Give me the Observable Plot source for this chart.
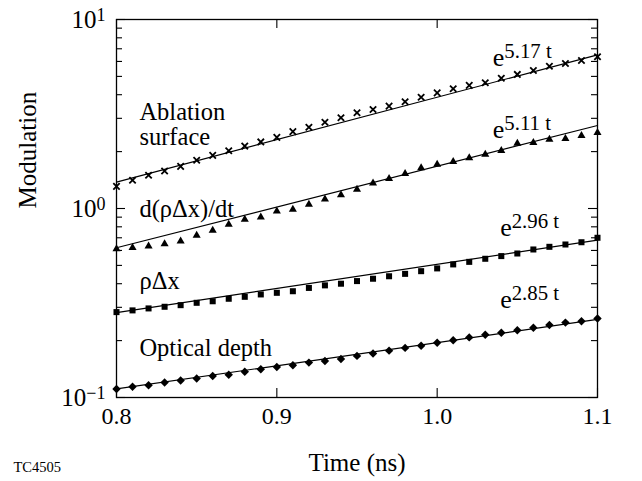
<!DOCTYPE html>
<html><head><meta charset="utf-8">
<script src="https://cdn.jsdelivr.net/npm/d3@7"></script>
<script src="https://cdn.jsdelivr.net/npm/@observablehq/plot@0.6"></script>
<style>body{margin:0;background:#fff}</style>
</head><body><div id="chart"></div>
<script>
// ---- data ----
const time = [0.80,0.81,0.82,0.83,0.84,0.85,0.86,0.87,0.88,0.89,0.90,0.91,0.92,0.93,0.94,0.95,0.96,0.97,0.98,0.99,1.00,1.01,1.02,1.03,1.04,1.05,1.06,1.07,1.08,1.09,1.10];
const ablation = [1.31,1.41,1.50,1.58,1.67,1.80,1.91,2.02,2.14,2.25,2.38,2.55,2.69,2.86,3.02,3.21,3.34,3.48,3.67,3.88,4.09,4.30,4.48,4.63,4.89,5.12,5.37,5.66,5.85,6.07,6.35];
const dRhoDxDt = [0.612,0.620,0.632,0.650,0.671,0.720,0.765,0.823,0.875,0.900,0.968,0.988,1.05,1.12,1.18,1.26,1.36,1.44,1.53,1.64,1.71,1.77,1.85,1.93,2.02,2.21,2.23,2.32,2.34,2.43,2.52];
const rhoDx = [0.283,0.289,0.296,0.302,0.308,0.317,0.323,0.333,0.341,0.351,0.358,0.365,0.380,0.392,0.400,0.413,0.425,0.438,0.451,0.466,0.482,0.506,0.522,0.542,0.560,0.578,0.607,0.627,0.645,0.663,0.700];
const opticalDepth = [0.111,0.114,0.116,0.120,0.123,0.126,0.130,0.132,0.137,0.141,0.145,0.148,0.153,0.156,0.160,0.166,0.171,0.177,0.183,0.188,0.195,0.201,0.208,0.215,0.220,0.227,0.234,0.242,0.249,0.253,0.262];
const seriesNames = ["Ablation surface", "d(ρΔx)/dt", "ρΔx", "Optical depth"];
const seriesLabels = ["Ablation\nsurface", "d(ρΔx)/dt", "ρΔx", "Optical depth"];
// exponential fits: value at start and end of the time range
const fitTimes = [0.80, 1.10];
const fitStart = [1.38, 0.62, 0.281, 0.111];
const fitEnd = [6.5, 2.75, 0.680, 0.259];
const growthLabels = ["e^5.17 t", "e^5.11 t", "e^2.96 t", "e^2.85 t"];
const xTickValues = [0.8, 0.9, 1.0, 1.1];
const xTickLabels = ["0.8", "0.9", "1.0", "1.1"];
const yTickValues = [0.1, 1, 10];
const yTickLabels = ["10_\u22121", "10_0", "10_1"];
const yMinorTicks = [0.2,0.3,0.4,0.5,0.6,0.7,0.8,0.9,2,3,4,5,6,7,8,9];

// ---- tables ----
const valuesBySeries = [ablation, dRhoDxDt, rhoDx, opticalDepth];
const rows = seriesNames.map((s, k) => time.map((t, i) => ({series: s, t, v: valuesBySeries[k][i]})));
const fitRows = seriesNames.flatMap((s, k) => [
  {series: s, t: fitTimes[0], v: fitStart[k]},
  {series: s, t: fitTimes[1], v: fitEnd[k]}
]);

const W = 642, H = 481, mL = 116, mR = 45, mT = 19, mB = 84;
const iW = W - mL - mR, iH = H - mT - mB;
const serif = "Liberation Serif, Times New Roman, serif";
const T = {fontFamily: serif, fill: "black"};

const svg = Plot.plot({
  width: W, height: H,
  marginLeft: mL, marginRight: mR, marginTop: mT, marginBottom: mB,
  style: {fontFamily: serif, fontSize: "24px", background: "white", color: "black"},
  x: {domain: [0.8, 1.1], axis: null},
  y: {type: "log", domain: [0.1, 10], axis: null},
  marks: [
    // fits
    Plot.line(fitRows, {x: "t", y: "v", z: "series", stroke: "black", strokeWidth: 1.2}),
    // data points
    Plot.dot(rows[0], {x: "t", y: "v", symbol: "times", r: 3, stroke: "black", strokeWidth: 1.8}),
    Plot.dot(rows[1], {x: "t", y: "v", symbol: "triangle", r: 3, fill: "black", stroke: "none"}),
    Plot.dot(rows[2], {x: "t", y: "v", symbol: "square", r: 3.4, fill: "black", stroke: "none"}),
    Plot.dot(rows[3], {x: "t", y: "v", symbol: "diamond2", r: 3.8, fill: "black", stroke: "none"}),
    // frame & inward ticks
    Plot.frame({stroke: "black", strokeWidth: 1.3}),
    Plot.tickY(yTickValues, {y: d => d, insetRight: iW - 9, stroke: "black", strokeWidth: 1.1}),
    Plot.tickY(yTickValues, {y: d => d, insetLeft: iW - 9, stroke: "black", strokeWidth: 1.1}),
    Plot.tickY(yMinorTicks, {y: d => d, insetRight: iW - 6, stroke: "black", strokeWidth: 1.1}),
    Plot.tickY(yMinorTicks, {y: d => d, insetLeft: iW - 6, stroke: "black", strokeWidth: 1.1}),
    Plot.tickX(xTickValues, {x: d => d, insetTop: iH - 9, stroke: "black", strokeWidth: 1.1}),
    Plot.tickX(xTickValues, {x: d => d, insetBottom: iH - 9, stroke: "black", strokeWidth: 1.1}),
    // tick labels
    Plot.text(xTickValues, {...T, x: d => d, text: (d, i) => xTickLabels[i], frameAnchor: "bottom", lineAnchor: "bottom", dy: 26, fontSize: 24}),
    Plot.text(yTickValues, {...T, y: d => d, text: (d, i) => yTickLabels[i], frameAnchor: "left", textAnchor: "end", lineAnchor: "middle", dx: -11, fontSize: 25}),
    // axis titles
    Plot.text(["Time (ns)"], {...T, text: d => d, frameAnchor: "bottom", lineAnchor: "bottom", dy: 73, fontSize: 25}),
    Plot.text(["Modulation"], {...T, text: d => d, frameAnchor: "left", lineAnchor: "bottom", rotate: -90, dx: -81, fontSize: 25}),
    Plot.text(["TC4505"], {...T, text: d => d, frameAnchor: "bottom-left", textAnchor: "start", lineAnchor: "bottom", dx: -103, dy: 74, fontSize: 14.5}),
    // series labels
    Plot.text(seriesLabels, {
      ...T,
      x: [0.8143, 0.8143, 0.8143, 0.8143],
      y: [2.16, 0.90, 0.373, 0.1655],
      text: d => d, textAnchor: "start", lineAnchor: "bottom", lineHeight: 1.03, fontSize: 24.5
    }),
    // growth-rate labels
    Plot.text(growthLabels, {
      ...T,
      x: [1.0347, 1.0347, 1.0393, 1.0393],
      y: [5.7, 2.37, 0.713, 0.298],
      text: d => d, textAnchor: "start", lineAnchor: "bottom", fontSize: 26
    })
  ]
});

// superscripts: "^" for growth labels, "_" marks tick-label exponents
d3.select(svg).selectAll("text").each(function () {
  const s = this.textContent;
  if (this.querySelector("tspan")) return;
  const sep = s.includes("^") ? "^" : s.includes("_") ? "_" : null;
  if (!sep) return;
  const [base, exp] = s.split(sep);
  this.textContent = "";
  d3.select(this).append("tspan").text(base);
  d3.select(this).append("tspan")
    .attr("dy", "-0.38em")
    .attr("font-size", sep === "^" ? "0.8em" : "0.72em")
    .text(exp);
});

document.getElementById("chart").appendChild(svg);
</script></body></html>
